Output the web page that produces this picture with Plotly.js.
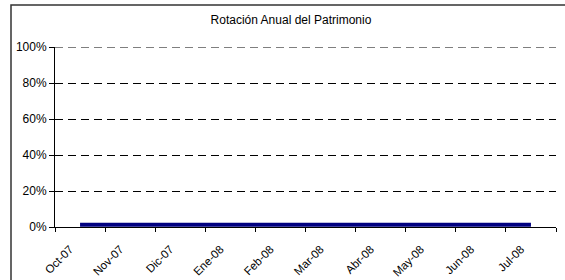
<!DOCTYPE html>
<html>
<head>
<meta charset="utf-8">
<script src="https://cdn.plot.ly/plotly-3.0.1.min.js"></script>
<style>
html,body{margin:0;padding:0;background:#fff;}
#chart{width:565px;height:280px;}
</style>
</head>
<body>
<div id="chart"></div>
<script>
var categories = ["Oct-07","Nov-07","Dic-07","Ene-08","Feb-08","Mar-08","Abr-08","May-08","Jun-08","Jul-08"];
var rotacion = [0.013,0.013,0.013,0.014,0.014,0.013,0.013,0.013,0.013,0.013];
var yTickVals = [0,0.2,0.4,0.6,0.8,1.0];
var yTickText = ["0%","20%","40%","60%","80%","100%"];
var yMax = 1.0;
var chartTitle = "Rotación Anual del Patrimonio";

var trace = {
  x: categories,
  y: rotacion,
  type: "scatter",
  mode: "lines",
  line: {color: "#000080", width: 4},
  hoverinfo: "skip"
};

var font = {family: "Liberation Sans, Arial, sans-serif", size: 12, color: "#000"};

var layout = {
  width: 565, height: 280,
  margin: {l: 55, r: 9, t: 47, b: 53, pad: 0},
  paper_bgcolor: "#fff", plot_bgcolor: "#fff",
  showlegend: false,
  font: font,
  title: {text: chartTitle, x: 0.515, xanchor: "center", y: 0.929, yanchor: "middle",
          font: {family: font.family, size: 12, color: "#000"}},
  xaxis: {
    type: "category",
    range: [-0.5, 9.5],
    showgrid: false,
    showline: true, linecolor: "#000", linewidth: 1,
    ticks: "outside", tickson: "boundaries", ticklen: 4, tickcolor: "#000", tickwidth: 1,
    tickangle: -45,
    ticklabelstandoff: 10,
    ticklabelshift: -10,
    tickfont: {family: font.family, size: 11.5, color: "#000"},
    zeroline: false,
    fixedrange: true
  },
  yaxis: {
    range: [0, yMax],
    tickvals: yTickVals,
    ticktext: yTickText,
    showline: true, linecolor: "#000", linewidth: 1,
    ticks: "outside", ticklen: 5, tickcolor: "#000", tickwidth: 1,
    showgrid: true, gridcolor: "#000", gridwidth: 1, griddash: "8px,5px",
    zeroline: false,
    tickfont: {family: font.family, size: 12, color: "#000"},
    fixedrange: true
  },
  shapes: [{
    type: "rect", xref: "paper", yref: "paper",
    x0: (11 - 55) / 501, x1: 1.2, y0: -0.5, y1: (227 - 5) / 180,
    line: {color: "#333", width: 1.5},
    fillcolor: "rgba(0,0,0,0)",
    layer: "below"
  }, {
    type: "line", xref: "paper", yref: "y",
    x0: 0, x1: 1, y0: yMax, y1: yMax,
    line: {color: "#000", width: 1, dash: "8px,5px"}
  }]
};

Plotly.newPlot("chart", [trace], layout, {displayModeBar: false, staticPlot: true});
</script>
</body>
</html>
